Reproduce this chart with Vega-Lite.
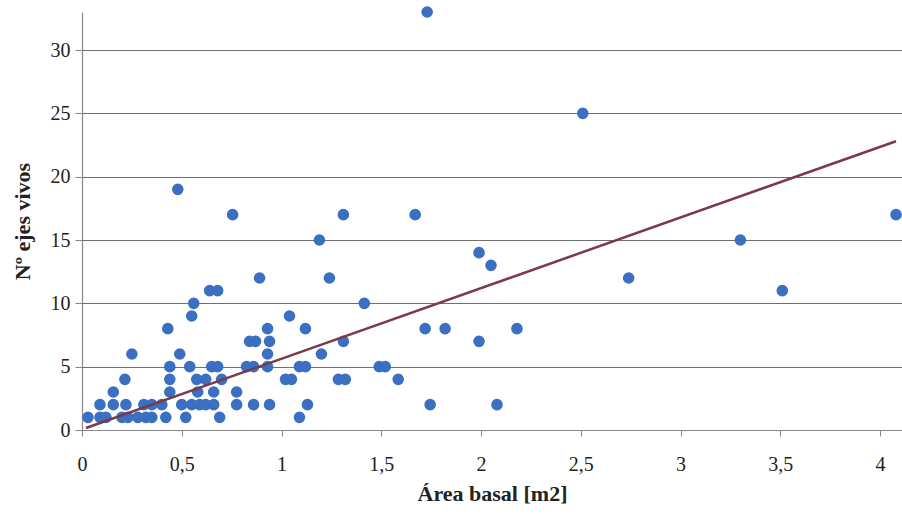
{
  "$schema": "https://vega.github.io/schema/vega-lite/v6.json",
  "width": 820,
  "height": 418,
  "autosize": {"type": "none"},
  "padding": {"left": 82, "top": 12, "right": 0, "bottom": 84},
  "background": "white",
  "datasets": {
    "pts": [
      {"x": 1.73, "y": 33}, {"x": 2.51, "y": 25}, {"x": 0.48, "y": 19},
      {"x": 0.755, "y": 17}, {"x": 1.31, "y": 17}, {"x": 1.67, "y": 17}, {"x": 4.08, "y": 17},
      {"x": 1.19, "y": 15}, {"x": 3.3, "y": 15}, {"x": 1.99, "y": 14}, {"x": 2.05, "y": 13},
      {"x": 0.89, "y": 12}, {"x": 1.24, "y": 12}, {"x": 2.74, "y": 12},
      {"x": 0.64, "y": 11}, {"x": 0.68, "y": 11}, {"x": 3.51, "y": 11},
      {"x": 0.56, "y": 10}, {"x": 1.415, "y": 10},
      {"x": 0.55, "y": 9}, {"x": 1.04, "y": 9},
      {"x": 0.43, "y": 8}, {"x": 0.93, "y": 8}, {"x": 1.12, "y": 8}, {"x": 1.72, "y": 8}, {"x": 1.82, "y": 8}, {"x": 2.18, "y": 8},
      {"x": 0.84, "y": 7}, {"x": 0.87, "y": 7}, {"x": 0.94, "y": 7}, {"x": 1.31, "y": 7}, {"x": 1.99, "y": 7},
      {"x": 0.25, "y": 6}, {"x": 0.49, "y": 6}, {"x": 0.93, "y": 6}, {"x": 1.2, "y": 6},
      {"x": 0.44, "y": 5}, {"x": 0.54, "y": 5}, {"x": 0.65, "y": 5}, {"x": 0.68, "y": 5}, {"x": 0.825, "y": 5}, {"x": 0.86, "y": 5}, {"x": 0.93, "y": 5}, {"x": 1.09, "y": 5}, {"x": 1.12, "y": 5}, {"x": 1.49, "y": 5}, {"x": 1.52, "y": 5},
      {"x": 0.215, "y": 4}, {"x": 0.44, "y": 4}, {"x": 0.575, "y": 4}, {"x": 0.62, "y": 4}, {"x": 0.7, "y": 4}, {"x": 1.02, "y": 4}, {"x": 1.05, "y": 4}, {"x": 1.285, "y": 4}, {"x": 1.32, "y": 4}, {"x": 1.585, "y": 4},
      {"x": 0.157, "y": 3}, {"x": 0.44, "y": 3}, {"x": 0.58, "y": 3}, {"x": 0.66, "y": 3}, {"x": 0.775, "y": 3},
      {"x": 0.09, "y": 2}, {"x": 0.157, "y": 2}, {"x": 0.22, "y": 2}, {"x": 0.31, "y": 2}, {"x": 0.35, "y": 2}, {"x": 0.4, "y": 2}, {"x": 0.5, "y": 2}, {"x": 0.55, "y": 2}, {"x": 0.59, "y": 2}, {"x": 0.62, "y": 2}, {"x": 0.66, "y": 2}, {"x": 0.775, "y": 2}, {"x": 0.86, "y": 2}, {"x": 0.94, "y": 2}, {"x": 1.13, "y": 2}, {"x": 1.745, "y": 2}, {"x": 2.08, "y": 2},
      {"x": 0.03, "y": 1}, {"x": 0.09, "y": 1}, {"x": 0.12, "y": 1}, {"x": 0.2, "y": 1}, {"x": 0.23, "y": 1}, {"x": 0.28, "y": 1}, {"x": 0.32, "y": 1}, {"x": 0.35, "y": 1}, {"x": 0.42, "y": 1}, {"x": 0.52, "y": 1}, {"x": 0.69, "y": 1}, {"x": 1.09, "y": 1}
    ],
    "trend": [
      {"x": 0.02, "y": 0.16},
      {"x": 4.08, "y": 22.8}
    ]
  },
  "layer": [
    {
      "data": {"name": "pts"},
      "mark": {"type": "circle", "size": 135, "color": "#3a6fc2", "opacity": 1},
      "encoding": {
        "x": {
          "field": "x", "type": "quantitative",
          "scale": {"domain": [0, 4.11], "nice": false, "zero": true},
          "axis": {
            "values": [0, 0.5, 1, 1.5, 2, 2.5, 3, 3.5, 4],
            "labelExpr": "replace(toString(datum.value), '.', ',')",
            "title": "Área basal [m2]",
            "grid": false,
            "domain": true, "domainColor": "#888888", "domainWidth": 1.2,
            "ticks": true, "tickColor": "#888888", "tickSize": 6,
            "labelFont": "Liberation Serif", "labelFontSize": 20, "labelColor": "#222222",
            "labelPadding": 18, "labelFlush": false, "labelOverlap": false,
            "titleFont": "Liberation Serif", "titleFontSize": 22, "titleFontWeight": "bold", "titleColor": "#222222",
            "titlePadding": 9
          }
        },
        "y": {
          "field": "y", "type": "quantitative",
          "scale": {"domain": [0, 33], "nice": false},
          "axis": {
            "values": [0, 5, 10, 15, 20, 25, 30],
            "title": "Nº ejes vivos",
            "grid": true, "gridColor": "#6f6f6f", "gridWidth": 1.1,
            "domain": true, "domainColor": "#888888", "domainWidth": 1.2,
            "ticks": true, "tickColor": "#888888", "tickSize": 7,
            "labelFont": "Liberation Serif", "labelFontSize": 20, "labelColor": "#222222",
            "labelPadding": 5,
            "titleFont": "Liberation Serif", "titleFontSize": 22, "titleFontWeight": "bold", "titleColor": "#222222",
            "titlePadding": 16
          }
        }
      }
    },
    {
      "data": {"name": "trend"},
      "mark": {"type": "line", "color": "#7b3a48", "strokeWidth": 2.5},
      "encoding": {
        "x": {"field": "x", "type": "quantitative"},
        "y": {"field": "y", "type": "quantitative"}
      }
    }
  ],
  "config": {"view": {"stroke": null}}
}
